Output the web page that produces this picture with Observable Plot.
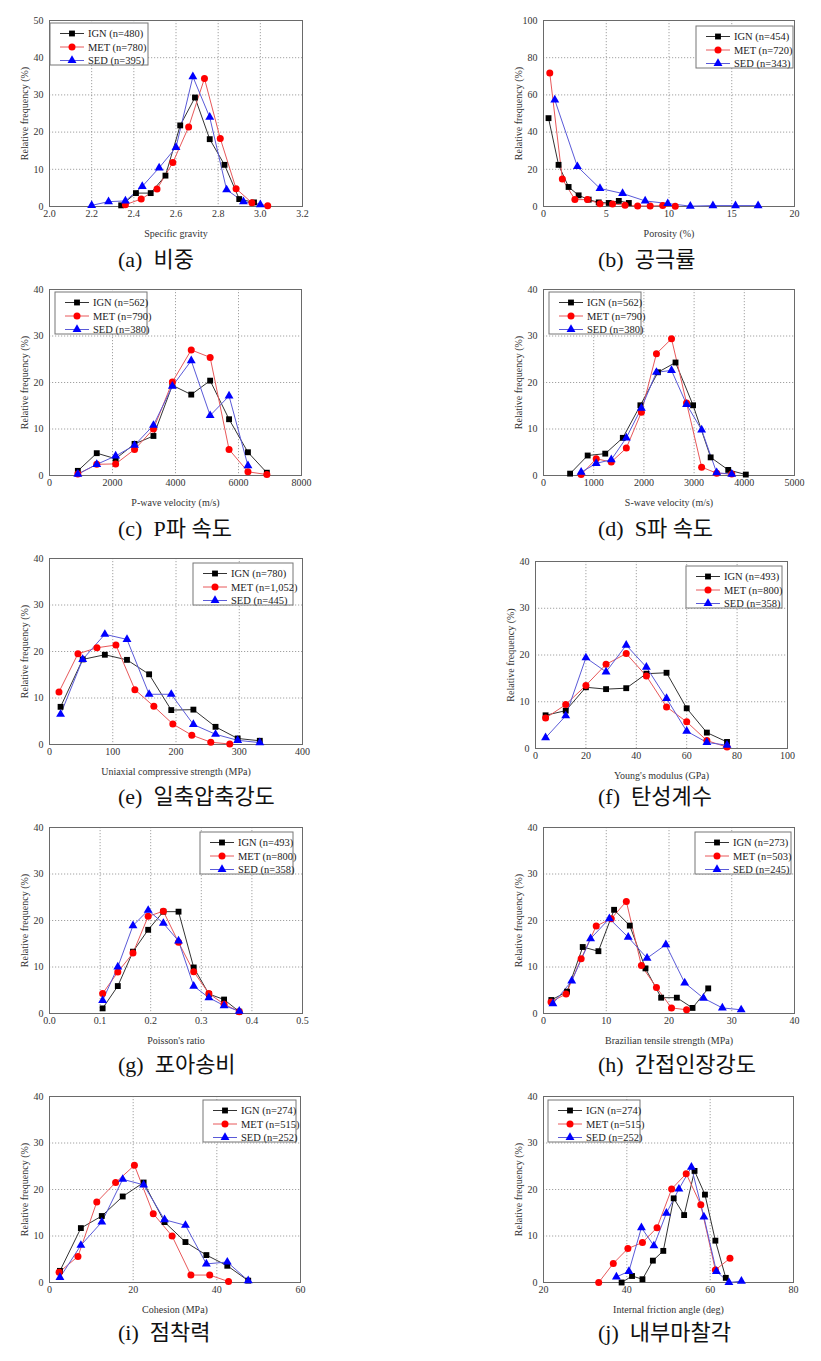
<!DOCTYPE html>
<html><head><meta charset="utf-8">
<script src="https://cdn.jsdelivr.net/npm/d3@7"></script>
<script src="https://cdn.jsdelivr.net/npm/@observablehq/plot@0.6"></script>
<style>
body{margin:0;background:#fff;}
#page{position:relative;width:821px;height:1361px;overflow:hidden;background:#fff;}
.panel{position:absolute;}
.panel svg{overflow:visible;}
.cap{position:absolute;font-family:"Liberation Serif","Noto Sans CJK KR",serif;font-size:22px;color:#111;white-space:pre;line-height:1;}
</style></head><body><div id="page"></div>
<script>
// ---------- data ----------
const series = ["IGN", "MET", "SED"];
const yLabel = "Relative frequency (%)";

// (a) specific gravity
const aIGNx = [2.34,2.41,2.48,2.55,2.62,2.69,2.76,2.83,2.90,2.97];
const aIGNy = [0.3,3.6,3.6,8.3,21.8,29.3,18.1,11.2,2.0,1.1];
const aMETx = [2.36,2.435,2.51,2.585,2.66,2.735,2.81,2.885,2.96,3.035];
const aMETy = [0.5,2.0,4.7,11.8,21.4,34.4,18.3,4.8,1.0,0.2];
const aSEDx = [2.20,2.28,2.36,2.44,2.52,2.60,2.68,2.76,2.84,2.92,3.00];
const aSEDy = [0.3,1.3,1.5,5.4,10.4,15.9,34.9,24.0,4.5,1.3,0.5];
const aN = ["480","780","395"];
const aXt = [2.0,2.2,2.4,2.6,2.8,3.0,3.2];

// (b) porosity
const bIGNx = [0.4,1.2,2.0,2.8,3.6,4.4,5.2,6.0,6.8];
const bIGNy = [47.5,22.4,10.5,6.0,3.7,2.2,1.9,3.0,1.9];
const bMETx = [0.5,1.5,2.5,3.5,4.5,5.5,6.5,7.5,8.5,9.5,10.5];
const bMETy = [71.8,14.8,3.7,3.7,1.5,1.4,0.7,0.3,0.3,0.5,0.2];
const bSEDx = [0.9,2.7,4.5,6.3,8.1,9.9,11.7,13.5,15.3,17.1];
const bSEDy = [57.3,21.5,9.7,7.0,3.0,1.6,0.2,0.5,0.5,0.5];
const bN = ["454","720","343"];
const bXt = [0,5,10,15,20];
const bYt = [0,20,40,60,80,100];

// (c) P-wave velocity
const cX = [900,1500,2100,2700,3300,3900,4500,5100,5700,6300,6900];
const cIGNy = [1.0,4.8,3.6,6.8,8.5,19.4,17.4,20.4,12.1,5.0,0.6];
const cMETy = [0.3,2.4,2.5,5.6,10.0,20.1,27.0,25.4,5.6,0.8,0.2];
const cSEDx = [900,1500,2100,2700,3300,3900,4500,5100,5700,6300];
const cSEDy = [0.3,2.4,4.2,6.5,10.8,19.2,24.7,12.9,17.1,2.1];
const cN = ["562","790","380"];
const cXt = [0,2000,4000,6000,8000];

// (d) S-wave velocity
const dIGNx = [530,880,1230,1580,1930,2280,2630,2980,3330,3680,4030];
const dIGNy = [0.4,4.3,4.7,8.1,15.1,22.2,24.3,15.1,3.9,1.2,0.2];
const dMETx = [750,1050,1350,1650,1950,2250,2550,2850,3150,3450,3750];
const dMETy = [0.2,3.6,2.9,5.9,13.6,26.2,29.4,15.6,1.8,0.5,0.3];
const dSEDy = [0.7,2.6,3.4,8.1,14.5,22.2,22.6,15.3,9.8,0.6,0.3];
const dN = ["562","790","380"];
const dXt = [0,1000,2000,3000,4000,5000];

// (e) UCS
const eIGNx = [17.5,52.5,87.5,122.5,157.5,192.5,227.5,262.5,297.5,332.5];
const eIGNy = [8.1,18.3,19.3,18.2,15.1,7.4,7.5,3.8,1.3,0.8];
const eMETx = [15,45,75,105,135,165,195,225,255,285];
const eMETy = [11.3,19.5,20.8,21.4,11.8,8.2,4.4,2.0,0.5,0.1];
const eSEDy = [6.5,18.3,23.7,22.6,10.8,10.8,4.3,2.2,0.9,0.4];
const eN = ["780","1,052","445"];
const eXt = [0,100,200,300,400];

// (f) Young's modulus
const fX = [4,12,20,28,36,44,52,60,68,76];
const fIGNy = [7.1,8.1,13.1,12.7,12.9,16.0,16.2,8.6,3.4,1.4];
const fMETy = [6.5,9.4,13.5,18.0,20.3,15.5,8.9,5.7,1.7,0.3];
const fSEDy = [2.3,7.0,19.4,16.4,22.1,17.4,10.7,3.7,1.3,0.7];
const fN = ["493","800","358"];
const fXt = [0,20,40,60,80,100];

// (g) Poisson's ratio
const gX = [0.105,0.135,0.165,0.195,0.225,0.255,0.285,0.315,0.345,0.375];
const gIGNy = [1.1,5.9,13.3,18.0,21.9,21.9,9.9,4.2,3.0,0.4];
const gMETy = [4.3,8.9,13.0,20.9,22.0,15.3,9.0,4.3,2.0,0.4];
const gSEDy = [2.8,10.0,18.9,22.2,19.4,15.6,5.9,3.4,1.7,0.5];
const gN = ["493","800","358"];
const gXt = [0,0.1,0.2,0.3,0.4,0.5];

// (h) Brazilian tensile strength
const hIGNx = [1.25,3.75,6.25,8.75,11.25,13.75,16.25,18.75,21.25,23.75,26.25];
const hIGNy = [2.9,4.7,14.3,13.4,22.3,18.9,9.7,3.4,3.4,1.2,5.4];
const hMETx = [1.2,3.6,6.0,8.4,10.8,13.2,15.6,18.0,20.4,22.8];
const hMETy = [2.5,4.2,11.8,18.8,20.4,24.1,10.3,5.6,1.2,0.8];
const hSEDx = [1.5,4.5,7.5,10.5,13.5,16.5,19.5,22.5,25.5,28.5,31.5];
const hSEDy = [2.1,7.0,16.1,20.4,16.4,11.9,14.8,6.6,3.3,1.2,0.8];
const hN = ["273","503","245"];
const hXt = [0,10,20,30,40];

// (i) cohesion
const iIGNx = [2.5,7.5,12.5,17.5,22.5,27.5,32.5,37.5,42.5,47.5];
const iIGNy = [2.5,11.7,14.3,18.5,21.5,13.0,8.7,5.9,3.6,0.4];
const iMETx = [2.3,6.8,11.3,15.8,20.3,24.8,29.3,33.8,38.3,42.8];
const iMETy = [2.2,5.6,17.3,21.5,25.2,14.8,10.0,1.6,1.6,0.2];
const iSEDy = [1.1,8.0,13.0,22.2,21.0,13.5,12.3,4.0,4.4,0.4];
const iN = ["274","515","252"];
const iXt = [0,20,40,60];

// (j) internal friction angle
const jIGNx = [38.75,41.25,43.75,46.25,48.75,51.25,53.75,56.25,58.75,61.25,63.75];
const jIGNy = [0.0,1.4,0.7,4.7,6.8,18.1,14.5,24.0,18.9,9.0,1.0];
const jMETx = [33.25,36.75,40.25,43.75,47.25,50.75,54.25,57.75,61.25,64.75];
const jMETy = [0.0,4.1,7.3,8.6,11.8,20.1,23.4,16.7,2.7,5.2];
const jSEDx = [37.5,40.5,43.5,46.5,49.5,52.5,55.5,58.5,61.5,64.5,67.5];
const jSEDy = [1.2,2.4,11.8,7.9,14.9,20.1,24.8,14.1,2.4,0.0,0.3];
const jN = ["274","515","252"];
const jXt = [20,40,60,80];

const yT40 = [0,10,20,30,40];
const yT50 = [0,10,20,30,40,50];

const xLabels = ["Specific gravity","Porosity (%)","P-wave velocity (m/s)","S-wave velocity (m/s)",
  "Uniaxial compressive strength (MPa)","Young's modulus (GPa)","Poisson's ratio",
  "Brazilian tensile strength (MPa)","Cohesion (MPa)","Internal friction angle (deg)"];
const capLetters = ["(a)","(b)","(c)","(d)","(e)","(f)","(g)","(h)","(i)","(j)"];
const capTexts = ["비중","공극률","P파 속도","S파 속도","일축압축강도","탄성계수","포아송비","간접인장강도","점착력","내부마찰각"];

const panels = [
  {data:[[aIGNx,aIGNy],[aMETx,aMETy],[aSEDx,aSEDy]], n:aN, xt:aXt, yt:yT50, fmt:".1f"},
  {data:[[bIGNx,bIGNy],[bMETx,bMETy],[bSEDx,bSEDy]], n:bN, xt:bXt, yt:bYt, fmt:"d"},
  {data:[[cX,cIGNy],[cX,cMETy],[cSEDx,cSEDy]], n:cN, xt:cXt, yt:yT40, fmt:"d"},
  {data:[[dIGNx,dIGNy],[dMETx,dMETy],[dMETx,dSEDy]], n:dN, xt:dXt, yt:yT40, fmt:"d"},
  {data:[[eIGNx,eIGNy],[eMETx,eMETy],[eIGNx,eSEDy]], n:eN, xt:eXt, yt:yT40, fmt:"d"},
  {data:[[fX,fIGNy],[fX,fMETy],[fX,fSEDy]], n:fN, xt:fXt, yt:yT40, fmt:"d"},
  {data:[[gX,gIGNy],[gX,gMETy],[gX,gSEDy]], n:gN, xt:gXt, yt:yT40, fmt:".1f"},
  {data:[[hIGNx,hIGNy],[hMETx,hMETy],[hSEDx,hSEDy]], n:hN, xt:hXt, yt:yT40, fmt:"d"},
  {data:[[iIGNx,iIGNy],[iMETx,iMETy],[iIGNx,iSEDy]], n:iN, xt:iXt, yt:yT40, fmt:"d"},
  {data:[[jIGNx,jIGNy],[jMETx,jMETy],[jSEDx,jSEDy]], n:jN, xt:jXt, yt:yT40, fmt:"d"}
];

// ---------- layout (page pixels) ----------
const layout = [
  {x0:49, x1:302, y0:20, y1:206, leg:[50,23,98]},
  {x0:543,x1:794, y0:20, y1:206, leg:[696,26,97]},
  {x0:49, x1:301, y0:289,y1:475, leg:[55,292,92]},
  {x0:543,x1:794, y0:289,y1:475, leg:[549,292,92]},
  {x0:49, x1:302, y0:558,y1:744, leg:[193,563,100]},
  {x0:535,x1:787, y0:561,y1:748, leg:[686,566,96]},
  {x0:49, x1:302, y0:827,y1:1013,leg:[200,832,93]},
  {x0:543,x1:794, y0:827,y1:1013,leg:[695,832,96]},
  {x0:49, x1:300, y0:1096,y1:1282,leg:[203,1100,93]},
  {x0:543,x1:793, y0:1096,y1:1282,leg:[548,1100,92]}
];
const capPos = [[118,249],[598,249],[118,518],[598,518],[118,786],[598,786],[118,1054],[598,1054],[118,1322],[598,1322]];

const lineColor = ["#333333","#e8585a","#5a5ad8"];
const markFill = ["#000000","#ff0000","#0000ff"];
const symbols = ["square","circle","triangle"];
const d3Symbols = [d3.symbolSquare, d3.symbolCircle, d3.symbolTriangle];
const rSize = [3.3,3.5,3.3];

const page = document.getElementById("page");
const ML = 48, MR = 12, MT = 10, MB = 40;
const font = "'Liberation Serif', 'Times New Roman', Times, serif";

panels.forEach((p, idx) => {
  const L = layout[idx];
  const w = L.x1 - L.x0, h = L.y1 - L.y0;
  const xDom = [p.xt[0], p.xt[p.xt.length-1]];
  const yDom = [p.yt[0], p.yt[p.yt.length-1]];
  const marks = [
    Plot.gridX(p.xt.slice(1,-1), {stroke:"#8a8a8a", strokeOpacity:1, strokeWidth:0.8, strokeDasharray:"1.2,1.8"}),
    Plot.gridY(p.yt.slice(1,-1), {stroke:"#8a8a8a", strokeOpacity:1, strokeWidth:0.8, strokeDasharray:"1.2,1.8"}),
    Plot.frame({stroke:"#6a6a6a", strokeWidth:1}),
    Plot.axisX(p.xt, {tickSize:0, tickPadding:3, tickFormat:d3.format(p.fmt), fontSize:10,
      label:xLabels[idx], labelAnchor:"center", labelArrow:"none", labelOffset:30}),
    Plot.axisY(p.yt, {tickSize:0, tickPadding:6, tickFormat:d3.format("d"), fontSize:10,
      label:yLabel, labelAnchor:"center", labelArrow:"none", labelOffset:29})
  ];
  p.data.forEach(([xs, ys], k) => {
    const rows = xs.map((x, i) => ({x, y: ys[i]}));
    marks.push(Plot.line(rows, {x:"x", y:"y", stroke:lineColor[k], strokeWidth:1}));
  });
  p.data.forEach(([xs, ys], k) => {
    const rows = xs.map((x, i) => ({x, y: ys[i]}));
    marks.push(Plot.dot(rows, {x:"x", y:"y", symbol:symbols[k], fill:markFill[k], stroke:"none", r:rSize[k]}));
  });
  const chart = Plot.plot({
    width: w + ML + MR, height: h + MT + MB,
    marginLeft: ML, marginRight: MR, marginTop: MT, marginBottom: MB,
    style: {fontFamily: font, fontSize: "10px", color: "#333", background: "transparent", overflow: "visible"},
    x: {domain: xDom}, y: {domain: yDom},
    marks
  });
  const div = document.createElement("div");
  div.className = "panel";
  div.style.left = (L.x0 - ML) + "px";
  div.style.top = (L.y0 - MT) + "px";
  div.appendChild(chart);
  page.appendChild(div);

  // legend inside plot box
  const svg = d3.select(chart);
  const [gx, gy, gw] = L.leg;
  const g = svg.append("g").attr("transform", `translate(${gx - (L.x0 - ML)},${gy - (L.y0 - MT)})`)
    .attr("text-anchor", "start");
  g.append("rect").attr("width", gw).attr("height", 42).attr("fill", "white").attr("stroke", "#777").attr("stroke-width", 1);
  series.forEach((s, k) => {
    const yy = 10.5 + k * 13.5;
    g.append("line").attr("x1", 10).attr("x2", 34).attr("y1", yy).attr("y2", yy)
      .attr("stroke", lineColor[k]).attr("stroke-width", 1);
    g.append("path").attr("d", d3.symbol(d3Symbols[k], Math.PI * rSize[k] * rSize[k])())
      .attr("transform", `translate(22,${yy})`).attr("fill", markFill[k]);
    g.append("text").attr("x", 38).attr("y", yy).attr("dy", "0.35em")
      .attr("text-anchor", "start")
      .style("font-family", font).style("font-size", "10.5px").attr("fill", "#222")
      .text(`${s} (n=${p.n[k]})`);
  });

  const cap = document.createElement("div");
  cap.className = "cap";
  cap.style.left = capPos[idx][0] + "px";
  cap.style.top = capPos[idx][1] + "px";
  cap.textContent = capLetters[idx] + "\u2002" + capTexts[idx];
  page.appendChild(cap);
});
</script>
</body></html>
